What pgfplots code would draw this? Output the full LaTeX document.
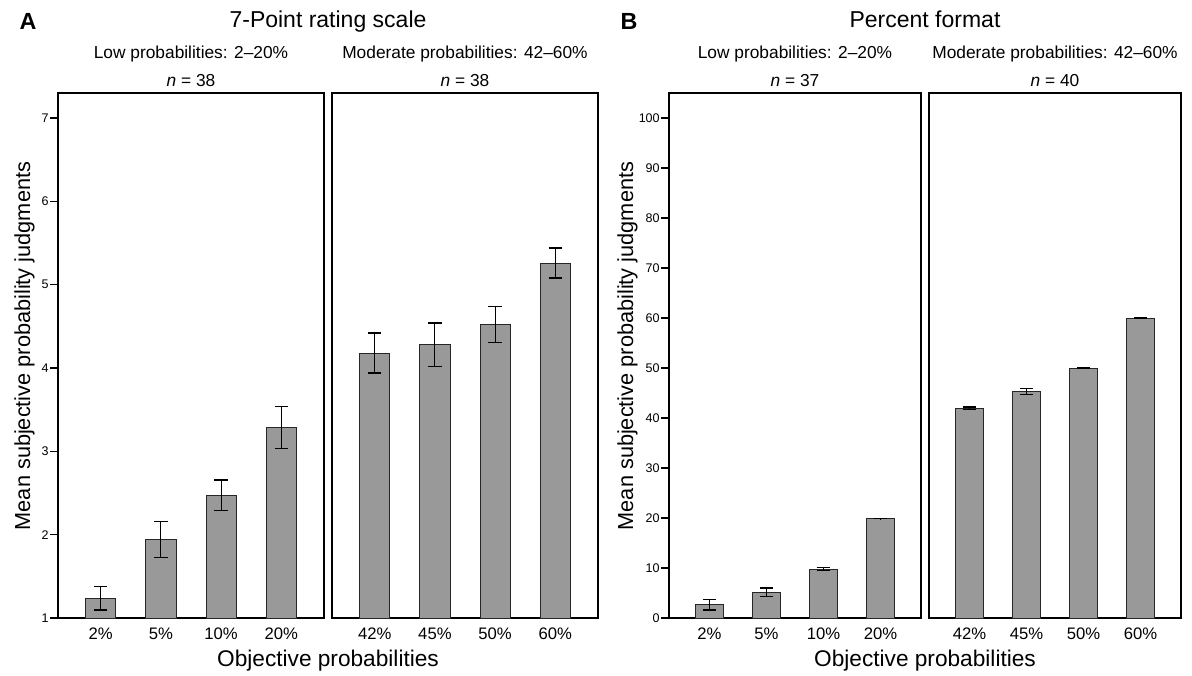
\documentclass[border=0pt]{standalone}
\usepackage{pgfplots}
\pgfplotsset{compat=1.18}
\usepackage{fontspec}
\setmainfont{Liberation Sans}

\definecolor{barfill}{HTML}{999999}

% Mean judgments with standard errors
\pgfplotstableread{
x y e
0 1.236 0.140
1 1.944 0.214
2 2.472 0.184
3 3.284 0.252
}\ratingLow
\pgfplotstableread{
x y e
0 4.180 0.240
1 4.280 0.260
2 4.520 0.215
3 5.260 0.180
}\ratingMod
\pgfplotstableread{
x y e
0 2.67 1.07
1 5.13 0.87
2 9.80 0.30
3 19.90 0.06
}\percentLow
\pgfplotstableread{
x y e
0 41.95 0.25
1 45.30 0.55
2 50.00 0.06
3 60.00 0.06
}\percentMod

\pgfplotsset{
  panel/.style={
    scale only axis,
    anchor=south west,
    height=393.75pt,
    xmin=-0.71, xmax=3.71,
    xtick={0,1,2,3},
    xtick style={draw=none},
    tick align=outside,
    tick pos=left,
    major tick length=6pt,
    axis line style={line width=0.8pt},
    ytick style={line width=0.8pt, black},
    /pgf/number format/assume math mode=true,
    xticklabel style={font=\fontsize{12.5}{15}\selectfont, anchor=base, yshift=-10pt},
    yticklabel style={font=\fontsize{9.4}{11}\selectfont, inner sep=0.8pt},
  },
  bars/.style={
    ybar, bar width=0.5, fill=barfill, draw=black!85, line width=0.6pt,
    error bars/.cd, y dir=both, y explicit,
    error bar style={line width=0.8pt, black},
    error mark options={rotate=90, mark size=5pt, line width=0.8pt, black},
  },
}

\begin{document}
\begin{tikzpicture}
\path[use as bounding box] (0pt,0pt) rectangle (894pt,-506.25pt);

% ---- A: 7-point rating scale ----
\begin{axis}[panel, at={(43.5pt,-463.5pt)}, width=199.5pt,
  ymin=1, ymax=7.3, ytick={1,2,3,4,5,6,7},
  xticklabels={2\%,5\%,10\%,20\%}]
\addplot[bars] table[x=x, y=y, y error=e] {\ratingLow};
\end{axis}
\begin{axis}[panel, at={(249pt,-463.5pt)}, width=199.5pt,
  ymin=1, ymax=7.3, ytick=\empty,
  xticklabels={42\%,45\%,50\%,60\%}]
\addplot[bars] table[x=x, y=y, y error=e] {\ratingMod};
\end{axis}

% ---- B: percent format ----
\begin{axis}[panel, at={(501.75pt,-463.5pt)}, width=189pt,
  ymin=0, ymax=105, ytick={0,10,...,100},
  xticklabels={2\%,5\%,10\%,20\%}]
\addplot[bars] table[x=x, y=y, y error=e] {\percentLow};
\end{axis}
\begin{axis}[panel, at={(696.75pt,-463.5pt)}, width=189pt,
  ymin=0, ymax=105, ytick=\empty,
  xticklabels={42\%,45\%,50\%,60\%}]
\addplot[bars] table[x=x, y=y, y error=e] {\percentMod};
\end{axis}

% panel letters and titles
\node[anchor=base, font=\bfseries\fontsize{17.5}{20}\selectfont] at (21pt,-21.75pt) {A};
\node[anchor=base, font=\bfseries\fontsize{17.5}{20}\selectfont] at (471.75pt,-21.75pt) {B};
\node[anchor=base, font=\fontsize{17.25}{20}\selectfont] at (246pt,-20.25pt) {7-Point rating scale};
\node[anchor=base, font=\fontsize{17.25}{20}\selectfont] at (693.75pt,-20.25pt) {Percent format};

% group headers
\begin{scope}[every node/.style={anchor=base, font=\fontsize{13}{15}\selectfont}]
\node at (143.25pt,-44pt) {Low probabilities: 2--20\%};
\node at (143.25pt,-64.5pt) {\textit{n} = 38};
\node at (348.75pt,-44pt) {Moderate probabilities: 42--60\%};
\node at (348.75pt,-64.5pt) {\textit{n} = 38};
\node at (596.25pt,-44pt) {Low probabilities: 2--20\%};
\node at (596.25pt,-64.5pt) {\textit{n} = 37};
\node at (791.25pt,-44pt) {Moderate probabilities: 42--60\%};
\node at (791.25pt,-64.5pt) {\textit{n} = 40};
\end{scope}

% axis titles
\begin{scope}[every node/.style={anchor=base, font=\fontsize{17}{20}\selectfont}]
\node at (246pt,-499.5pt) {Objective probabilities};
\node at (693.75pt,-499.5pt) {Objective probabilities};
\node[rotate=90, font=\fontsize{16.3}{19}\selectfont] at (22.5pt,-259.5pt) {Mean subjective probability judgments};
\node[rotate=90, font=\fontsize{16.3}{19}\selectfont] at (474.75pt,-259.5pt) {Mean subjective probability judgments};
\end{scope}
\end{tikzpicture}
\end{document}
